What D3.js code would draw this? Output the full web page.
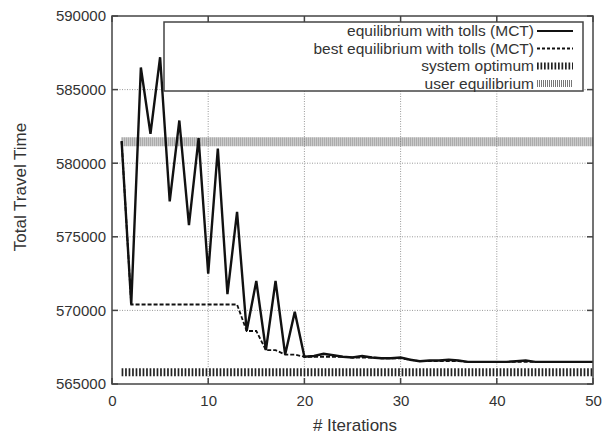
<!DOCTYPE html>
<html><head><meta charset="utf-8">
<script src="https://cdn.jsdelivr.net/npm/d3@7"></script>
<style>body{margin:0;background:#fff}svg{display:block}text{font-family:"Liberation Sans",Arial,sans-serif;fill:#333}</style>
</head><body><svg id="c" width="607" height="440"></svg>
<script>
const iterations = d3.range(1, 51);
const mctValues = [581500,570400,586500,582000,587200,577400,582900,575800,581700,572500,
  581000,571100,576700,568600,572000,567300,572000,567000,569900,566850,
  566900,567050,566950,566850,566800,566900,566800,566750,566750,566800,
  566650,566550,566600,566600,566650,566600,566500,566500,566500,566500,
  566500,566550,566600,566500,566500,566500,566500,566500,566500,566500];
const bestValues = [581500,570400,570400,570400,570400,570400,570400,570400,570400,570400,
  570400,570400,570400,568600,568600,567300,567300,567000,567000,566850,
  566850,566850,566850,566850,566800,566800,566800,566750,566750,566750,
  566650,566550,566550,566550,566550,566550,566500,566500,566500,566500,
  566500,566500,566500,566500,566500,566500,566500,566500,566500,566500];
const systemOptimum = 565800;
const userEquilibrium = 581450;
const xTicks = [0,10,20,30,40,50];
const yTicks = [565000,570000,575000,580000,585000,590000];
const legendLabels = ["equilibrium with tolls (MCT)","best equilibrium with tolls (MCT)","system optimum","user equilibrium"];

const svg = d3.select("#c");
const L=112, R=593, T=16, B=384;
const x = d3.scaleLinear().domain([0,50]).range([L,R]);
const y = d3.scaleLinear().domain([565000,590000]).range([B,T]);
const axisColor="#444";

// grid
const g = svg.append("g");
g.selectAll(".gx").data(xTicks.slice(1,-1)).join("line")
  .attr("x1",d=>x(d)).attr("x2",d=>x(d)).attr("y1",T).attr("y2",B)
  .attr("stroke","#999").attr("stroke-width",1).attr("stroke-dasharray","1,1.5");
g.selectAll(".gy").data(yTicks.slice(1,-1)).join("line")
  .attr("y1",d=>y(d)).attr("y2",d=>y(d)).attr("x1",L).attr("x2",R)
  .attr("stroke","#999").attr("stroke-width",1).attr("stroke-dasharray","1,1.5");

// reference lines
svg.append("line").attr("x1",x(1)).attr("x2",x(50)).attr("y1",y(userEquilibrium)).attr("y2",y(userEquilibrium))
  .attr("stroke","#777").attr("stroke-width",9).attr("stroke-dasharray","1,1");
svg.append("line").attr("x1",x(1)).attr("x2",x(50)).attr("y1",y(systemOptimum)).attr("y2",y(systemOptimum))
  .attr("stroke","#222").attr("stroke-width",8).attr("stroke-dasharray","1.7,1.8");

// series
const line = d3.line().x((d,i)=>x(iterations[i])).y(d=>y(d));
svg.append("path").attr("d",line(bestValues)).attr("fill","none").attr("stroke","#111")
  .attr("stroke-width",1.8).attr("stroke-dasharray","4,2");
svg.append("path").attr("d",line(mctValues)).attr("fill","none").attr("stroke","#111")
  .attr("stroke-width",2.4).attr("stroke-linejoin","miter");

// axes
const ax = svg.append("g");
ax.append("rect").attr("x",L).attr("y",T).attr("width",R-L).attr("height",B-T)
  .attr("fill","none").attr("stroke",axisColor).attr("stroke-width",1.5);
const xa = d3.axisBottom(x).tickValues(xTicks).tickSize(0).tickPadding(11);
ax.append("g").attr("transform",`translate(0,${B})`).call(xa).call(s=>s.select(".domain").remove())
  .selectAll("text").attr("font-size",15).style("font-family","Liberation Sans, Arial, sans-serif").attr("fill","#333");
const ya = d3.axisLeft(y).tickValues(yTicks).tickSize(0).tickPadding(6).tickFormat(d3.format("d"));
ax.append("g").attr("transform",`translate(${L},0)`).call(ya).call(s=>s.select(".domain").remove())
  .selectAll("text").attr("font-size",15).style("font-family","Liberation Sans, Arial, sans-serif").attr("fill","#333");
// inward tick marks on all four sides
const tl=6;
ax.selectAll(".tb").data(xTicks).join("line").attr("x1",d=>x(d)).attr("x2",d=>x(d)).attr("y1",B).attr("y2",B-tl).attr("stroke",axisColor).attr("stroke-width",1.5);
ax.selectAll(".tt").data(xTicks).join("line").attr("x1",d=>x(d)).attr("x2",d=>x(d)).attr("y1",T).attr("y2",T+tl).attr("stroke",axisColor).attr("stroke-width",1.5);
ax.selectAll(".tlf").data(yTicks).join("line").attr("y1",d=>y(d)).attr("y2",d=>y(d)).attr("x1",L).attr("x2",L+tl).attr("stroke",axisColor).attr("stroke-width",1.5);
ax.selectAll(".trt").data(yTicks).join("line").attr("y1",d=>y(d)).attr("y2",d=>y(d)).attr("x1",R).attr("x2",R-tl).attr("stroke",axisColor).attr("stroke-width",1.5);

// axis titles
svg.append("text").attr("x",355).attr("y",431).attr("text-anchor","middle").attr("font-size",17).text("# Iterations");
svg.append("text").attr("transform",`translate(26,187) rotate(-90)`).attr("text-anchor","middle").attr("font-size",17).text("Total Travel Time");

// legend
const lg = svg.append("g");
lg.append("rect").attr("x",164).attr("y",22).attr("width",583-164).attr("height",91-22)
  .attr("fill","#fff").attr("stroke",axisColor).attr("stroke-width",1.5);
const rowY = i => 31 + i*17.5;
lg.selectAll("text.lt").data(legendLabels).join("text").attr("class","lt")
  .attr("x",534).attr("y",(d,i)=>rowY(i)).attr("dy","0.35em").attr("text-anchor","end").attr("font-size",15.5).text(d=>d);
const sx1=537, sx2=573;
lg.append("line").attr("x1",sx1).attr("x2",sx2).attr("y1",rowY(0)).attr("y2",rowY(0)).attr("stroke","#111").attr("stroke-width",2.2);
lg.append("line").attr("x1",sx1).attr("x2",sx2).attr("y1",rowY(1)).attr("y2",rowY(1)).attr("stroke","#111").attr("stroke-width",1.8).attr("stroke-dasharray","3,2");
lg.append("line").attr("x1",sx1).attr("x2",sx2).attr("y1",rowY(2)).attr("y2",rowY(2)).attr("stroke","#222").attr("stroke-width",7).attr("stroke-dasharray","1.7,1.8");
lg.append("line").attr("x1",sx1).attr("x2",sx2).attr("y1",rowY(3)).attr("y2",rowY(3)).attr("stroke","#777").attr("stroke-width",7).attr("stroke-dasharray","1,1");
</script></body></html>
